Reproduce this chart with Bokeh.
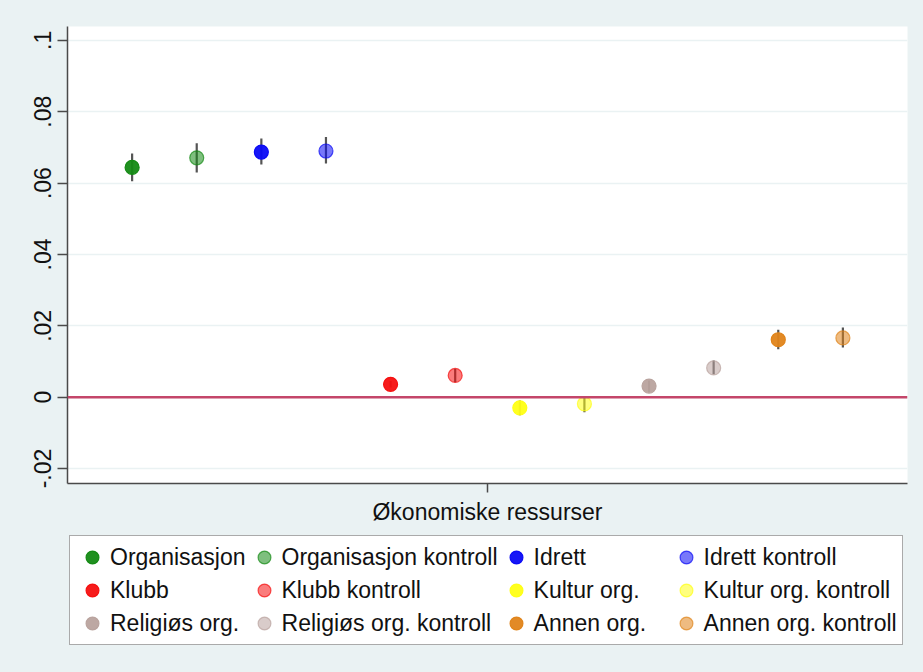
from bokeh.plotting import figure
from bokeh.layouts import column
from bokeh.models import Range1d, FixedTicker, Span, Legend, LegendItem
from bokeh.embed import file_html
from bokeh.resources import INLINE

# ---------------- data ----------------
groups = ["Organisasjon", "Organisasjon kontroll", "Idrett", "Idrett kontroll",
          "Klubb", "Klubb kontroll", "Kultur org.", "Kultur org. kontroll",
          "Religiøs org.", "Religiøs org. kontroll", "Annen org.", "Annen org. kontroll"]
positions = [1, 2, 3, 4, 5, 6, 7, 8, 9, 10, 11, 12]
estimates = [0.0644, 0.0671, 0.0687, 0.0690, 0.0036, 0.0061,
             -0.0030, -0.0019, 0.0031, 0.0082, 0.0161, 0.0166]
ci_low = [0.0605, 0.0630, 0.0652, 0.0655, 0.0027, 0.0042,
          -0.0051, -0.0042, 0.0014, 0.0064, 0.0134, 0.0139]
ci_high = [0.0683, 0.0712, 0.0725, 0.0729, 0.0045, 0.0080,
           -0.0009, -0.0002, 0.0047, 0.0103, 0.0189, 0.0195]
colors = ["#148A14", "#148A14", "#0A0AF5", "#0A0AF5", "#F51010", "#F51010",
          "#FFFF14", "#FFFF14", "#B9A39E", "#B9A39E", "#E0841A", "#E0841A"]
alphas = [0.95, 0.55, 0.95, 0.55, 0.95, 0.55, 0.95, 0.55, 0.95, 0.55, 0.95, 0.55]
y_ticks = [-0.02, 0.0, 0.02, 0.04, 0.06, 0.08, 0.1]
y_tick_labels = ["-.02", "0", ".02", ".04", ".06", ".08", ".1"]
x_tick = [6.5]
x_tick_label = ["Økonomiske ressurser"]
legend_cols = 4

BG = "#EAF2F3"
FONT = "Liberation Sans"

# ---------------- main chart ----------------
p = figure(frame_width=840, frame_height=457, output_backend="svg", toolbar_location=None,
           x_range=Range1d(0, 13), y_range=Range1d(-0.0242, 0.1039),
           min_border_left=67, min_border_right=16, min_border_top=26,
           min_border_bottom=50)
p.border_fill_color = BG
p.background_fill_color = "white"
p.outline_line_color = None

p.yaxis.ticker = FixedTicker(ticks=y_ticks)
p.yaxis.major_label_overrides = {t: l for t, l in zip(y_ticks, y_tick_labels)}
p.yaxis.major_label_orientation = "vertical"
p.xaxis.ticker = FixedTicker(ticks=x_tick)
p.xaxis.major_label_overrides = {t: l for t, l in zip(x_tick, x_tick_label)}
for ax in (p.xaxis, p.yaxis):
    ax.axis_line_color = "#4a4a4a"
    ax.axis_line_width = 1.5
    ax.major_tick_line_color = "#4a4a4a"
    ax.major_tick_line_width = 1.5
    ax.major_tick_in = 0
    ax.major_tick_out = 10
    ax.minor_tick_line_color = None
    ax.major_label_text_font = FONT
    ax.major_label_text_font_size = "23px"
    ax.major_label_text_color = "#111111"
p.yaxis.major_label_standoff = 6
p.xaxis.major_label_standoff = 6
p.xaxis.major_tick_out = 9

p.xgrid.grid_line_color = None
p.ygrid.grid_line_color = BG
p.ygrid.grid_line_width = 1.5

zero = Span(location=0, dimension="width", line_color="#C4466A", line_width=2.5)
p.add_layout(zero)

p.segment(x0=positions, y0=ci_low, x1=positions, y1=ci_high,
          line_color="#555555", line_width=2.2)

def marker_style(i):
    return dict(size=14, marker="circle",
                fill_color=colors[i], fill_alpha=alphas[i],
                line_color=colors[i], line_alpha=min(1.0, alphas[i] + 0.15),
                line_width=1.2)

for i, g in enumerate(groups):
    p.scatter(x=[positions[i]], y=[estimates[i]], **marker_style(i))

# ---------------- legend strip ----------------
lg = figure(width=923, height=139, output_backend="svg", toolbar_location=None,
            x_range=Range1d(100, 101), y_range=Range1d(100, 101),
            x_axis_location=None, y_axis_location=None,
            min_border_left=0, min_border_right=0, min_border_top=0, min_border_bottom=0)
lg.border_fill_color = BG
lg.background_fill_color = BG
lg.outline_line_color = None
lg.grid.visible = False

items = []
for i, g in enumerate(groups):
    r = lg.scatter(x=[positions[i]], y=[estimates[i]], **marker_style(i))
    items.append(LegendItem(label=g, renderers=[r]))

legend = Legend(items=items, orientation="horizontal", ncols=legend_cols,
                location=(2, 27),
                glyph_width=34, glyph_height=32, label_standoff=1,
                label_width=134, spacing=1, padding=5, margin=0,
                label_text_font=FONT, label_text_font_size="23px",
                label_text_color="#111111",
                border_line_color="#555555", border_line_width=1.5,
                background_fill_color="white", background_fill_alpha=1.0)
lg.add_layout(legend, "center")

layout = column(p, lg, spacing=0, styles={"background-color": BG})
open("out.html", "w").write(file_html(layout, INLINE))
